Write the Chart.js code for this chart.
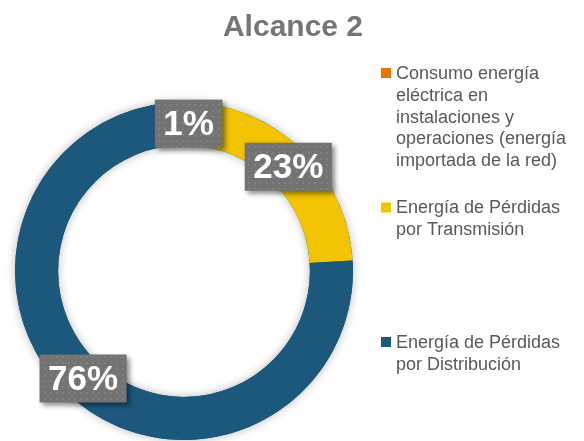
<!DOCTYPE html>
<html>
<head>
<meta charset="utf-8">
<script src="https://cdn.jsdelivr.net/npm/chart.js@4"></script>
<style>
  body { margin: 0; background: #fff; }
  #wrap { width: 584px; height: 441px; }
</style>
</head>
<body>
<div id="wrap"><canvas id="alcance" width="584" height="441"></canvas></div>
<script>
const chartTitle = 'Alcance 2';
const categories = [
  'Consumo energía eléctrica en instalaciones y operaciones (energía importada de la red)',
  'Energía de Pérdidas por Transmisión',
  'Energía de Pérdidas por Distribución'
];
const shares = [1, 23, 76];
const sliceColors = ['#EE7203', '#F2C300', '#1B587C'];

const FONT = 'Arial, "Liberation Sans", sans-serif';

// dotted grey fill for the percentage boxes
function dotPattern(ctx) {
  const c = document.createElement('canvas');
  c.width = 6; c.height = 6;
  const p = c.getContext('2d');
  p.fillStyle = '#737373';
  p.fillRect(0, 0, 6, 6);
  p.fillStyle = '#808080';
  p.fillRect(2, 2, 2, 2);
  return ctx.createPattern(c, 'repeat');
}

function wrapText(ctx, text, maxW) {
  const words = text.split(' ');
  const lines = [];
  let cur = '';
  words.forEach(w => {
    const t = cur ? cur + ' ' + w : w;
    if (cur && ctx.measureText(t).width > maxW) {
      lines.push(cur);
      cur = w;
    } else {
      cur = t;
    }
  });
  if (cur) lines.push(cur);
  return lines;
}

const ringShadow = {
  id: 'ringShadow',
  beforeDatasetsDraw(chart) {
    const arc = chart.getDatasetMeta(0).data[0];
    if (!arc) return;
    const { x, y, outerRadius, innerRadius } = arc.getProps(['x', 'y', 'outerRadius', 'innerRadius']);
    const ctx = chart.ctx;
    ctx.save();
    ctx.shadowColor = 'rgba(0,0,0,0.28)';
    ctx.shadowBlur = 10;
    ctx.beginPath();
    ctx.arc(x, y, outerRadius, 0, Math.PI * 2);
    ctx.arc(x, y, innerRadius, 0, Math.PI * 2, true);
    ctx.fillStyle = '#1B587C';
    ctx.fill('evenodd');
    ctx.restore();
  }
};

const pctBoxes = {
  id: 'pctBoxes',
  afterDatasetsDraw(chart) {
    const ctx = chart.ctx;
    const data = chart.data.datasets[0].data;
    const total = data.reduce((a, b) => a + b, 0);
    const fill = dotPattern(ctx);
    ctx.save();
    ctx.font = 'bold 35px ' + FONT;
    chart.getDatasetMeta(0).data.forEach((arc, i) => {
      const pos = arc.tooltipPosition();
      const txt = Math.round(data[i] / total * 100) + '%';
      const w = ctx.measureText(txt).width + 17;
      const h = 48;
      ctx.save();
      ctx.shadowColor = 'rgba(0,0,0,0.45)';
      ctx.shadowBlur = 5;
      ctx.shadowOffsetX = 3;
      ctx.shadowOffsetY = 3;
      ctx.fillStyle = fill;
      ctx.fillRect(pos.x - w / 2, pos.y - h / 2, w, h);
      ctx.restore();
      ctx.fillStyle = '#ffffff';
      ctx.textAlign = 'center';
      ctx.textBaseline = 'middle';
      ctx.fillText(txt, pos.x, pos.y + 2);
    });
    ctx.restore();
  }
};

const titleAndLegend = {
  id: 'titleAndLegend',
  afterDraw(chart) {
    const ctx = chart.ctx;
    ctx.save();
    ctx.fillStyle = '#767676';
    ctx.font = 'bold 30px ' + FONT;
    ctx.textAlign = 'center';
    ctx.textBaseline = 'alphabetic';
    ctx.fillText(chartTitle, 293, 36);

    ctx.font = '18px ' + FONT;
    ctx.textAlign = 'left';
    ctx.textBaseline = 'middle';
    chart.data.labels.forEach((label, i) => {
      const top = 73 + i * 134.5;
      ctx.fillStyle = sliceColors[i];
      ctx.fillRect(381, top - 5, 10, 10);
      ctx.fillStyle = '#595959';
      wrapText(ctx, label, 176).forEach((line, j) => {
        ctx.fillText(line, 396, top + 1 + j * 21.8);
      });
    });
    ctx.restore();
  }
};

new Chart(document.getElementById('alcance'), {
  type: 'doughnut',
  data: {
    labels: categories,
    datasets: [{
      data: shares,
      backgroundColor: sliceColors,
      borderWidth: 0
    }]
  },
  options: {
    responsive: false,
    animation: false,
    cutout: '74.5%',
    rotation: 0,
    layout: { padding: { left: 15, right: 231, top: 102, bottom: 1 } },
    plugins: {
      legend: { display: false },
      tooltip: { enabled: false }
    }
  },
  plugins: [ringShadow, pctBoxes, titleAndLegend]
});
</script>
</body>
</html>
